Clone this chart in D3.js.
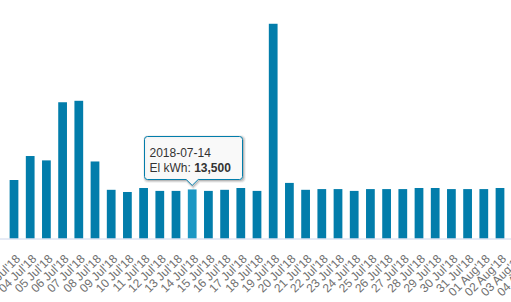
<!DOCTYPE html>
<html>
<head>
<meta charset="utf-8">
<script src="https://d3js.org/d3.v7.min.js"></script>
<style>
    html, body { margin: 0; padding: 0; background: #fff; overflow: hidden; }
    #main-stage { width: 511px; height: 302px; }
</style>
</head>
<body>
<div id="main-stage"></div>
<script>
// Daily electricity use (kWh), 2018-07-03 .. 2018-08-04 (the last two sit off the right edge)
const dates = [
    "2018-07-03", "2018-07-04", "2018-07-05", "2018-07-06", "2018-07-07", "2018-07-08",
    "2018-07-09", "2018-07-10", "2018-07-11", "2018-07-12", "2018-07-13", "2018-07-14",
    "2018-07-15", "2018-07-16", "2018-07-17", "2018-07-18", "2018-07-19", "2018-07-20",
    "2018-07-21", "2018-07-22", "2018-07-23", "2018-07-24", "2018-07-25", "2018-07-26",
    "2018-07-27", "2018-07-28", "2018-07-29", "2018-07-30", "2018-07-31", "2018-08-01",
    "2018-08-02", "2018-08-03", "2018-08-04"
];
const elKwh = [
    16100, 22700, 21500, 37500, 37900, 21200,
    13400, 12800, 13900, 13100, 13100, 13500,
    13100, 13400, 13900, 13100, 59100, 15300,
    13400, 13600, 13600, 13100, 13600, 13600,
    13600, 13900, 13900, 13600, 13600, 13600,
    13900, 13600, 13600
];
const yDomain = [0, 60000];
const hoverDate = "2018-07-14";
const seriesName = "El kWh";

const W = 511, H = 302;
const barColor = "#027dab";
const hoverColor = "#1b97c3";

const parse = d3.timeParse("%Y-%m-%d");
const tickFmt = d3.timeFormat("%d %b'%y");
const numFmt = d3.format(",");

const svg = d3.select("#main-stage")
    .append("svg")
    .attr("width", W)
    .attr("height", H)
    .style("font-family", "'Open Sans', sans-serif");

// escala x: bandas de ~16.2px, la primera centrada en x=14
const step = 16.2;
const x0 = 14 - step / 2;
const x = d3.scaleBand()
    .domain(dates)
    .range([x0, x0 + step * dates.length])
    .paddingInner(0.46)
    .paddingOuter(0.23);

const baseY = 238.5;
const y = d3.scaleLinear()
    .domain(yDomain)
    .range([baseY, baseY - 218]);

// barras
svg.append("g")
    .selectAll("rect")
    .data(dates)
    .join("rect")
    .attr("x", d => x(d))
    .attr("y", (d, i) => y(elKwh[i]))
    .attr("width", x.bandwidth())
    .attr("height", (d, i) => y(0) - y(elKwh[i]))
    .attr("fill", d => d === hoverDate ? hoverColor : barColor);

// eje x
const xAxis = d3.axisBottom(x)
    .tickSize(0)
    .tickPadding(0)
    .tickFormat(d => tickFmt(parse(d)));

const gx = svg.append("g")
    .attr("transform", `translate(0,${baseY})`)
    .call(xAxis);

gx.select(".domain")
    .attr("d", `M0,0.5H${W}`)
    .attr("stroke", "#ccd6eb");

gx.selectAll("text")
    .attr("fill", "#707070")
    .style("font-size", "12px")
    .attr("text-anchor", "end")
    .attr("dy", null)
    .attr("y", null)
    .attr("transform", "translate(7,21) rotate(-45)");

// tooltip
const hi = dates.indexOf(hoverDate);
const tipX = x(hoverDate) + x.bandwidth() / 2;
const tipY = y(elKwh[hi]) - 4;
const bx = 144.5, by = 136.5, bw = 98, bh = 43, r = 3;

const tipPath = [
    `M${bx + r},${by}`,
    `H${bx + bw - r}`, `Q${bx + bw},${by} ${bx + bw},${by + r}`,
    `V${by + bh - r}`, `Q${bx + bw},${by + bh} ${bx + bw - r},${by + bh}`,
    `H${tipX + 6}`, `L${tipX},${tipY}`, `L${tipX - 6},${by + bh}`,
    `H${bx + r}`, `Q${bx},${by + bh} ${bx},${by + bh - r}`,
    `V${by + r}`, `Q${bx},${by} ${bx + r},${by}`, "Z"
].join("");

const tip = svg.append("g");

// sombra
[5, 3, 1].forEach((sw, k) => {
    tip.append("path")
        .attr("d", tipPath)
        .attr("transform", "translate(1,1)")
        .attr("fill", "none")
        .attr("stroke", "#000")
        .attr("stroke-opacity", 0.05 * (k + 1))
        .attr("stroke-width", sw);
});

tip.append("path")
    .attr("d", tipPath)
    .attr("fill", "rgba(249,249,249,0.92)")
    .attr("stroke", barColor)
    .attr("stroke-width", 1);

const tt = tip.append("text")
    .attr("x", bx + 5)
    .attr("y", by + 20)
    .attr("fill", "#333")
    .style("font-family", "Arial, 'Liberation Sans', sans-serif")
    .style("font-size", "12px");

tt.append("tspan").text(hoverDate);
const line2 = tt.append("tspan").attr("x", bx + 5).attr("dy", 15);
line2.append("tspan").text(seriesName + ": ");
line2.append("tspan").style("font-weight", "bold").text(numFmt(elKwh[hi]));
</script>
</body>
</html>
